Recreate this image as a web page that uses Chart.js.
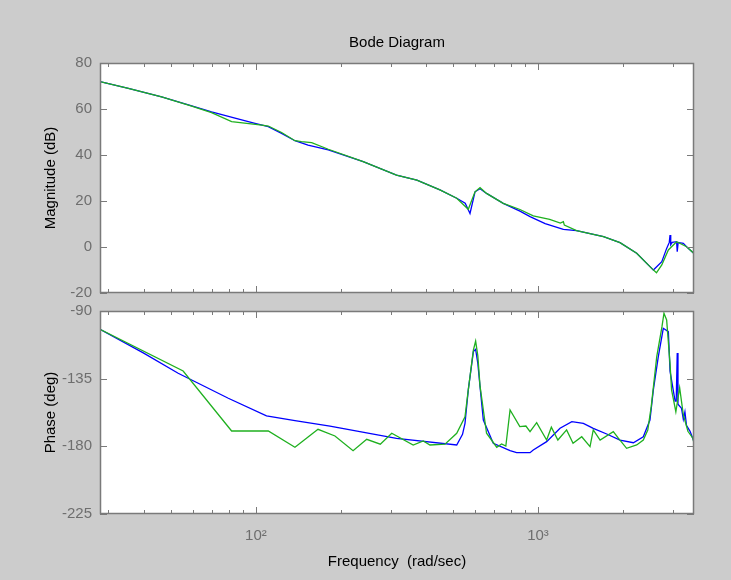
<!DOCTYPE html>
<html>
<head>
<meta charset="utf-8">
<script src="https://cdn.jsdelivr.net/npm/chart.js@4/dist/chart.umd.min.js"></script>
<style>
  html,body{margin:0;padding:0;background:#cccccc;}
  #wrap{position:relative;width:731px;height:580px;background:#cccccc;overflow:hidden;}
  canvas{position:absolute;left:0;}
  #cMag{top:0;}
  #cPh{top:290px;}
</style>
</head>
<body>
<div id="wrap">
  <canvas id="cMag" width="731" height="310"></canvas>
  <canvas id="cPh" width="731" height="290"></canvas>
</div>
<script>
// frequency range and tick values (rad/sec)
const xMin = 28, xMax = 3573;
const xTicks = [30,40,50,60,70,80,90,100,200,300,400,500,600,700,800,900,1000,2000,3000];

// magnitude, blue (model)
const blueMagF  = [28,35.3,46.3,59.2,69.6,84.3,99.2,110.6,123.3,137.5,153,180.5,240,315,372,449,515,552,574,598,623,657,753,863,937,1060,1230,1370,1707,1953,2238,2530,2564,2747,2858,2920,2938,2955,2990,3100,3116,3140,3275,3400,3573];
const blueMagDb = [71.9,69.0,65.3,61.4,58.8,56.0,53.8,52.3,49.4,46.2,44.3,42.2,37.1,31.3,29.1,24.8,21.2,19.0,14.6,24.0,25.3,23.3,19.0,15.6,13.2,10.2,7.7,7.1,4.5,1.9,-2.7,-9.3,-10.0,-6.4,-0.6,2.0,5.2,1.0,2.0,2.3,-2.0,2.0,1.6,-0.5,-2.8];

// magnitude, green (measured)
const greenMagF  = [28,35.3,46.3,59.2,69.6,82,105,110.6,123.3,137.5,145,157.6,180.5,240,315,372,449,515,566,598,623,657,753,863,962,1100,1200,1230,1240,1370,1707,1953,2238,2530,2630,2747,2898,3100,3364,3573];
const greenMagDb = [71.9,69.0,65.3,61.3,58.4,54.5,53.0,52.6,49.8,46.2,45.8,45.4,42.5,37.1,31.3,29.1,24.8,21.2,16.4,24.0,25.8,23.3,19.0,16.3,13.5,12.0,10.4,11.0,9.5,7.1,4.5,1.9,-2.7,-9.3,-11.2,-7.8,-1.3,2.3,0.1,-2.8];

// phase, blue
const bluePhF   = [28,40,53,79.8,109,137.5,183,315,515,540,551,566,590,601,612,623,640,694,796,840,937,962,1073,1197,1318,1448,1570,1752,1953,2178,2362,2494,2564,2670,2781,2898,2938,3062,3090,3116,3135,3227,3275,3318,3360,3460,3573];
const bluePhDeg = [-102.2,-118,-131.4,-148,-159.8,-162.9,-166.5,-174.7,-179.1,-172,-164.7,-142.5,-117,-115.5,-125,-140.3,-162.5,-178,-182.9,-184.2,-184.2,-182.4,-176.9,-168,-163.6,-164.7,-168,-171.8,-175.8,-177.6,-173.6,-162.5,-142.5,-120.4,-101.5,-103.7,-130,-150,-150,-118,-152,-154.7,-162,-157,-166,-170,-176.9];

// phase, green
const greenPhF   = [28,55.2,82,110.6,137.5,166,190.6,221,247,276,303,361,392,414,468,515,551,566,590,601,612,623,657,714,743,769,796,862,906,937,989,1073,1115,1176,1263,1331,1429,1529,1570,1660,1849,1927,2061,2238,2362,2450,2520,2636,2751,2796,2858,2938,2975,3081,3178,3275,3400,3540,3573];
const greenPhDeg = [-102.2,-129.9,-169.8,-169.8,-180.6,-168.7,-173.1,-182.9,-175.3,-178.6,-171.3,-179.1,-176.4,-179.1,-178.6,-171.3,-160.3,-142.5,-116,-110,-120,-140,-171.3,-180.6,-178.4,-179.8,-155.8,-166.9,-166.5,-170.2,-164.2,-175.8,-167.3,-175.8,-169.1,-178,-173.6,-180.2,-169.1,-175.8,-170.2,-174.6,-181.3,-179.1,-175.8,-169.1,-153.6,-120.4,-100.4,-91.5,-96,-125,-142.5,-157,-141,-159,-170,-174.6,-178];

const C = {
  blue:'#0000ff', green:'#1fb01f', axis:'#7a7a7a', tick:'#6e6e6e', text:'#000000',
  font:"'Liberation Sans', Arial, Helvetica, sans-serif"
};
Chart.defaults.font.family = C.font;
Chart.defaults.font.size = 15;
Chart.defaults.color = C.tick;
Chart.defaults.animation = false;

const pts = (xs, ys) => xs.map((x,i)=>({x, y:ys[i]}));

// white plot area, box frame and inward ticks on all four sides
const frame = {
  id:'frame',
  beforeDraw(chart){
    const {ctx, chartArea:a} = chart;
    ctx.save();
    ctx.fillStyle = '#ffffff';
    ctx.fillRect(a.left, a.top, a.right-a.left, a.bottom-a.top);
    ctx.restore();
  },
  afterDraw(chart){
    const {ctx, chartArea:a, scales} = chart;
    ctx.save();
    ctx.strokeStyle = C.axis;
    ctx.lineWidth = 1;
    ctx.beginPath();
    scales.x.ticks.forEach(t=>{
      const px = Math.round(scales.x.getPixelForValue(t.value)) + .5;
      const len = (t.value===100 || t.value===1000) ? 7 : 4;
      ctx.moveTo(px, a.bottom); ctx.lineTo(px, a.bottom-len);
      ctx.moveTo(px, a.top);    ctx.lineTo(px, a.top+len);
    });
    scales.y.ticks.forEach(t=>{
      const py = Math.round(scales.y.getPixelForValue(t.value)) + .5;
      ctx.moveTo(a.left, py);  ctx.lineTo(a.left+7, py);
      ctx.moveTo(a.right, py); ctx.lineTo(a.right-7, py);
    });
    ctx.stroke();
    ctx.lineWidth = 1.5;
    ctx.strokeRect(Math.round(a.left)+.5, Math.round(a.top)+.5, Math.round(a.right-a.left)-1, Math.round(a.bottom-a.top)-1);
    ctx.restore();
  }
};

const line = (data, color, order) => ({
  data, borderColor:color, backgroundColor:color, borderWidth:1.3,
  showLine:true, pointRadius:0, tension:0, order
});

function bodeChart(id, sets, y, {title, xLabels, topH, bottomH}){
  return new Chart(document.getElementById(id), {
    type:'scatter',
    data:{datasets:sets},
    options:{
      responsive:false,
      layout:{padding:{left:0, right:37, top:0, bottom:0}},
      plugins:{legend:{display:false}, tooltip:{enabled:false}},
      scales:{
        x:{
          type:'logarithmic', position:'bottom', min:xMin, max:xMax,
          afterBuildTicks:s=>{ s.ticks = xTicks.map(v=>({value:v})); },
          grid:{display:false, drawTicks:false}, border:{display:false},
          ticks:{display:xLabels, autoSkip:false, maxRotation:0, padding:13, color:C.tick,
            callback:v=> v===100 ? '10\u00b2' : v===1000 ? '10\u00b3' : ''},
          title:{display:xLabels, text:'Frequency  (rad/sec)', color:C.text, padding:{top:0,bottom:9}},
          afterFit:s=>{ s.height = bottomH; }
        },
        xTop:{
          type:'linear', position:'top', min:0, max:1,
          grid:{display:false}, border:{display:false}, ticks:{display:false},
          title:{display:!!title, text:title||'', color:C.text, padding:{top:34,bottom:0}},
          afterFit:s=>{ s.height = topH; }
        },
        y:{
          type:'linear', position:'left', min:y.min, max:y.max,
          grid:{display:false, drawTicks:false}, border:{display:false},
          ticks:{stepSize:y.step, padding:8, color:C.tick},
          title:{display:true, text:y.label, color:C.text, padding:{top:42,bottom:0}},
          afterFit:s=>{ s.width = 100; }
        }
      }
    },
    plugins:[frame]
  });
}

bodeChart('cMag', [
  line(pts(greenMagF, greenMagDb), C.green, 0),
  line(pts(blueMagF, blueMagDb), C.blue, 1)
], {min:-20, max:80, step:20, label:'Magnitude (dB)'},
{title:'Bode Diagram', xLabels:false, topH:63, bottomH:17});

bodeChart('cPh', [
  line(pts(greenPhF, greenPhDeg), C.green, 0),
  line(pts(bluePhF, bluePhDeg), C.blue, 1)
], {min:-225, max:-90, step:45, label:'Phase (deg)'},
{title:null, xLabels:true, topH:21, bottomH:66});
</script>
</body>
</html>
